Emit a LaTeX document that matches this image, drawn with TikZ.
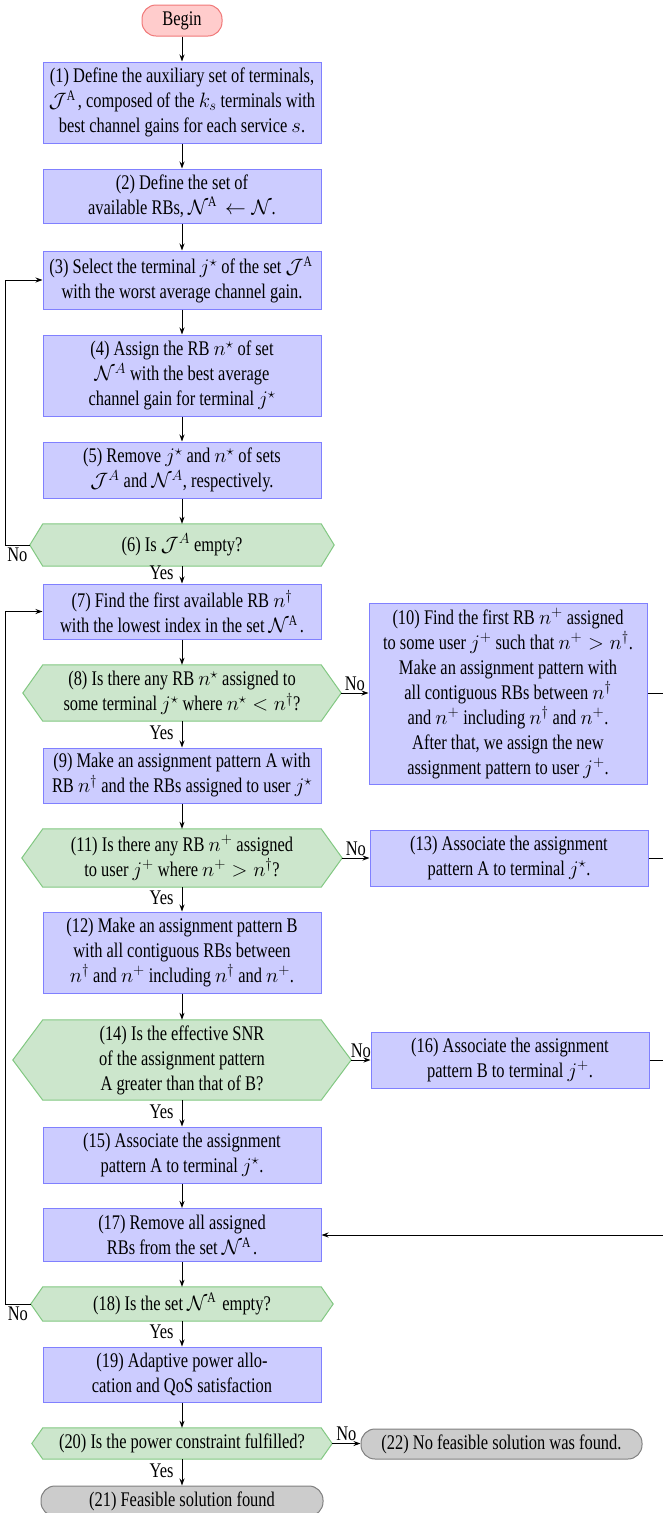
\RequirePackage{fix-cm}
\documentclass[tikz,border=0pt]{standalone}
\usepackage{fontspec}
\setmainfont{Liberation Serif}[FakeStretch=0.79]
\usetikzlibrary{arrows.meta,backgrounds,calc}
\definecolor{bfill}{RGB}{204,204,255}
\definecolor{bdraw}{RGB}{128,128,255}
\definecolor{gfill}{RGB}{204,230,204}
\definecolor{gdraw}{RGB}{130,200,130}
\definecolor{rfill}{RGB}{255,204,204}
\definecolor{rdraw}{RGB}{240,120,120}
\definecolor{kfill}{RGB}{204,204,204}
\definecolor{kdraw}{RGB}{128,128,128}
\begin{document}
\begin{tikzpicture}[x=1pt,y=-1pt,
  every node/.style={font=\fontsize{20.8}{25}\selectfont},
  proc/.style={rectangle, draw=bdraw, fill=bfill, line width=1pt, minimum width=278pt, align=center, inner sep=1pt},
  dec/.style={rectangle, minimum width=278pt, align=center, inner sep=1pt},
  hexa/.style={draw=gdraw, fill=gfill, line width=1pt},
  term/.style={rectangle, rounded corners=14pt, draw=kdraw, fill=kfill, line width=1pt, minimum height=30pt, align=center, inner sep=1pt},
  startbox/.style={rectangle, rounded corners=14pt, draw=rdraw, fill=rfill, line width=1pt, minimum width=80pt, minimum height=31pt, inner sep=1pt},
  arr/.style={-{Stealth[length=7pt,width=5pt]}, line width=0.9pt},
  conn/.style={line width=0.9pt},
  lab/.style={inner sep=2pt},
  ylab/.style={inner sep=2pt, left, xshift=-6pt, yshift=2pt}
]
\useasboundingbox (0,0) rectangle (662,1513);

\node[startbox] (begin) at (182,20.5) {Begin};
\node[proc, minimum height=81pt] (b1) at (182,102.5) {(1) Define the auxiliary set of terminals,\\ $\mathcal{J}^{\mathrm{A}}$, composed of the $k_s$ terminals with\\ best channel gains for each service $s$.};
\node[proc, minimum height=54pt] (b2) at (182,196) {(2) Define the set of\\ available RBs, $\mathcal{N}^{\mathrm{A}} \leftarrow \mathcal{N}$.};
\node[proc, minimum height=58pt] (b3) at (182,280) {(3) Select the terminal $j^\star$ of the set $\mathcal{J}^{\mathrm{A}}$\\ with the worst average channel gain.};
\node[proc, minimum height=81pt] (b4) at (182,375.5) {(4) Assign the RB $n^\star$ of set\\ $\mathcal{N}^A$ with the best average\\ channel gain for terminal $j^\star$};
\node[proc, minimum height=56pt] (b5) at (182,470) {(5) Remove $j^\star$ and $n^\star$ of sets\\ $\mathcal{J}^A$ and $\mathcal{N}^A$, respectively.};
\node[dec, minimum height=42pt] (d6) at (182,545) {(6) Is $\mathcal{J}^A$ empty?};
\node[proc, minimum height=55pt] (b7) at (182,611.5) {(7) Find the first available RB $n^\dagger$\\ with the lowest index in the set $\mathcal{N}^{\mathrm{A}}$.};
\node[dec, minimum height=56pt] (d8) at (182,693) {(8) Is there any RB $n^\star$ assigned to\\ some terminal $j^\star$ where $n^\star < n^\dagger$?};
\node[proc, minimum height=55pt] (b9) at (182,775.5) {(9) Make an assignment pattern A with\\ RB $n^\dagger$ and the RBs assigned to user $j^\star$};
\node[proc, minimum height=181pt] (b10) at (508,693.5) {(10) Find the first RB $n^+$ assigned\\ to some user $j^+$ such that $n^+ > n^\dagger$.\\ Make an assignment pattern with\\ all contiguous RBs between $n^\dagger$\\ and $n^+$ including $n^\dagger$ and $n^+$.\\ After that, we assign the new\\ assignment pattern to user $j^+$.};
\node[dec, minimum height=58pt] (d11) at (182,858) {(11) Is there any RB $n^+$ assigned\\ to user $j^+$ where $n^+ > n^\dagger$?};
\node[proc, minimum height=56pt] (b13) at (509,858) {(13) Associate the assignment\\ pattern A to terminal $j^\star$.};
\node[proc, minimum height=81pt] (b12) at (182,952.5) {(12) Make an assignment pattern B\\ with all contiguous RBs between\\ $n^\dagger$ and $n^+$ including $n^\dagger$ and $n^+$.};
\node[dec, minimum height=80pt] (d14) at (182,1060) {(14) Is the effective SNR\\ of the assignment pattern\\ A greater than that of B?};
\node[proc, minimum height=56pt] (b16) at (510,1060) {(16) Associate the assignment\\ pattern B to terminal $j^+$.};
\node[proc, minimum height=56pt] (b15) at (182,1155) {(15) Associate the assignment\\ pattern A to terminal $j^\star$.};
\node[proc, minimum height=53pt] (b17) at (182,1235) {(17) Remove all assigned\\ RBs from the set $\mathcal{N}^{\mathrm{A}}$.};
\node[dec, minimum height=34pt] (d18) at (182,1304) {(18) Is the set $\mathcal{N}^{\mathrm{A}}$ empty?};
\node[proc, minimum height=55pt] (b19) at (182,1374.5) {(19) Adaptive power allo-\\cation and QoS satisfaction};
\node[dec, minimum height=31pt] (d20) at (182,1443.5) {(20) Is the power constraint fulfilled?};
\node[term, minimum width=281pt] (t22) at (501.5,1444) {(22) No feasible solution was found.};
\node[term, minimum width=282pt] (t21) at (182,1501) {(21) Feasible solution found};

\begin{scope}[on background layer]
\foreach \n/\e in {d6/13,d8/20,d11/21,d14/30,d18/12,d20/11}{
  \path[hexa] (\n.north west) -- (\n.north east) -- ([xshift=\e pt]\n.east) -- (\n.south east) -- (\n.south west) -- ([xshift=-\e pt]\n.west) -- cycle;
  \coordinate (\n-l) at ([xshift=-\e pt]\n.west);
  \coordinate (\n-r) at ([xshift=\e pt]\n.east);
}
\end{scope}

\coordinate (lrail) at (5,0);
\coordinate (rrail) at (670,0);

\draw[arr] (begin) -- (b1);
\draw[arr] (b1) -- (b2);
\draw[arr] (b2) -- (b3);
\draw[arr] (b3) -- (b4);
\draw[arr] (b4) -- (b5);
\draw[arr] (b5) -- (d6);
\draw[arr] (d6) -- node[ylab]{Yes} (b7);
\draw[arr] (d6-l) -- node[lab,below]{No} (d6-l -| lrail) |- (b3.west);
\draw[arr] (b7) -- (d8);
\draw[arr] (d8) -- node[ylab]{Yes} (b9);
\draw[arr] (d8-r) -- node[lab,above]{No} (d8-r -| b10.west);
\draw[arr] (b9) -- (d11);
\draw[arr] (d11) -- node[ylab]{Yes} (b12);
\draw[arr] (d11-r) -- node[lab,above]{No} (d11-r -| b13.west);
\draw[arr] (b12) -- (d14);
\draw[arr] (d14) -- node[ylab]{Yes} (b15);
\draw[arr] (d14-r) -- node[lab,above]{No} (d14-r -| b16.west);
\draw[arr] (b15) -- (b17);
\draw[arr] (b17) -- (d18);
\draw[arr] (d18) -- node[ylab]{Yes} (b19);
\draw[arr] (d18-l) -- node[lab,below]{No} (d18-l -| lrail) |- (b7.west);
\draw[arr] (b19) -- (d20);
\draw[arr] (d20) -- node[ylab]{Yes} (t21);
\draw[arr] (d20-r) -- node[lab,above]{No} (d20-r -| t22.west);
\draw[arr] (b10.east) -- (b10.east -| rrail) |- (b17.east);
\draw[conn] (b13.east) -- (b13.east -| rrail);
\draw[conn] (b16.east) -- (b16.east -| rrail);
\end{tikzpicture}
\end{document}
